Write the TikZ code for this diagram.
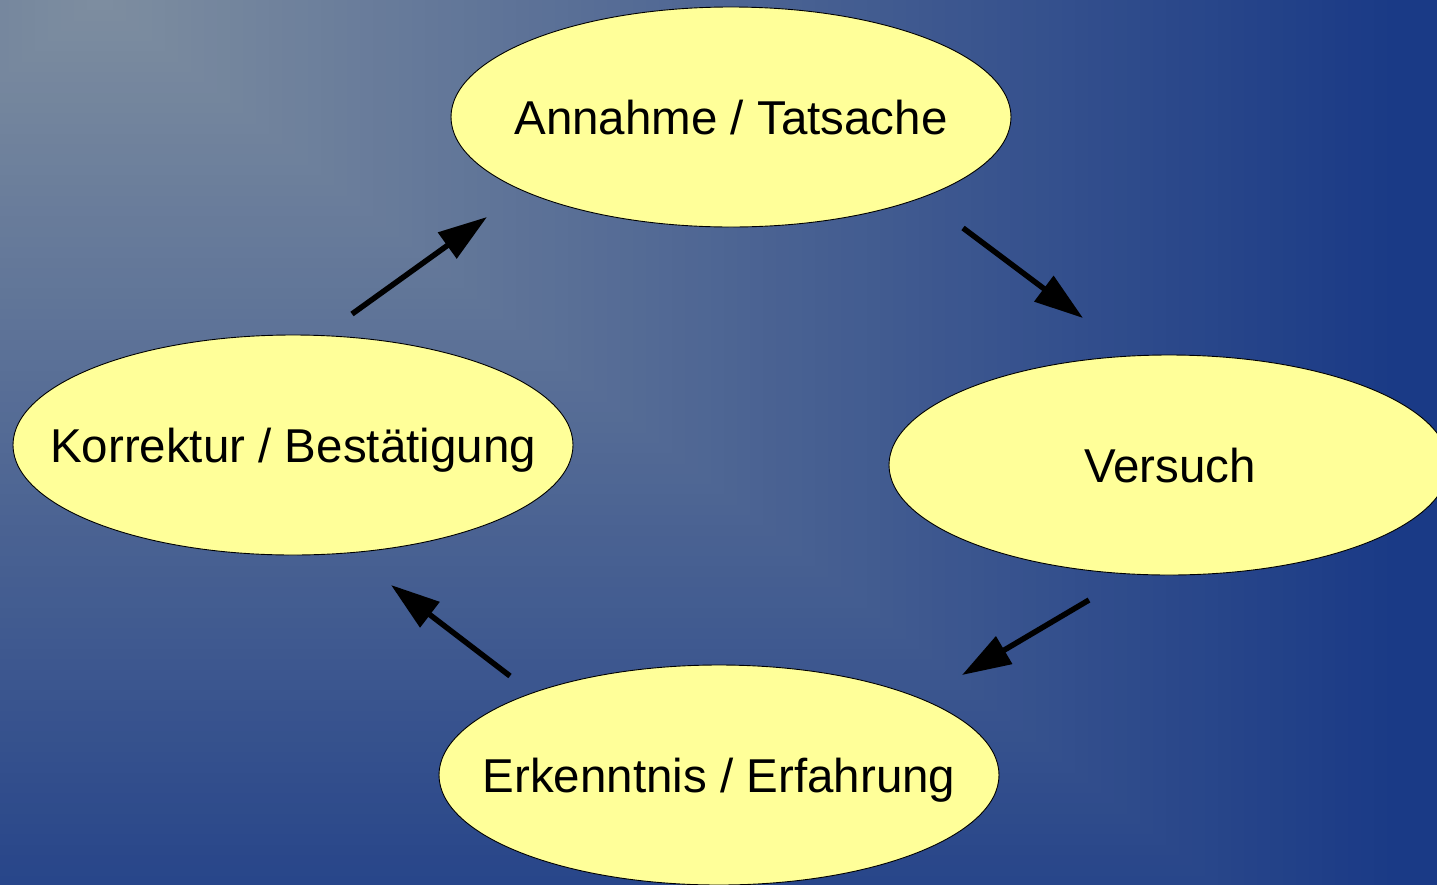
\documentclass[tikz,border=0pt]{standalone}
\usepackage{fontspec}
\setmainfont{Liberation Sans}
\usetikzlibrary{shapes.geometric,arrows.meta}
\definecolor{bglight}{HTML}{7E8EA0}
\definecolor{bgdark}{HTML}{1A3A86}
\definecolor{ellfill}{HTML}{FFFF99}
\begin{document}
\begin{tikzpicture}[x=1pt,y=-1pt,
  stage/.style={ellipse, draw=black, line width=0.9pt, fill=ellfill,
    minimum width=560pt, minimum height=220pt, inner sep=0pt},
  stagetext/.style={inner sep=0pt, text height=34pt, text depth=0pt,
    font=\fontsize{47.5}{57}\selectfont},
  arr/.style={line width=5.5pt, -{Triangle[length=49pt,width=31pt]}}]
\useasboundingbox (0,0) rectangle (1437,884);
\begin{scope}
\clip (0,0) rectangle (1437,884);
\foreach \i in {112,111,...,0}{
  \pgfmathsetmacro\t{\i/100}
  \pgfmathsetmacro\p{min(100,\i)}
  \fill[bgdark!\p!bglight] ({100-1300*\t},{-1030*\t}) rectangle ({100+1300*\t},{1030*\t});
}
\node[stage] (ann) at (731,117) {};
\node[stage] (ver) at (1169,465) {};
\node[stage] (erk) at (719,775) {};
\node[stage] (kor) at (293,445) {};
\node[stagetext] (annt) at (ann.center) {Annahme / Tatsache};
\node[stagetext] (vert) at (1170,465) {Versuch};
\node[stagetext] (erkt) at (erk.center) {Erkenntnis / Erfahrung};
\node[stagetext] (kort) at (kor.center) {Korrektur / Bestätigung};
\coordinate (a1s) at (963,228);
\coordinate (a1e) at (1083,318);
\coordinate (a2s) at (1089,600);
\coordinate (a2e) at (962,675);
\coordinate (a3s) at (510,676);
\coordinate (a3e) at (391,585);
\coordinate (a4s) at (352,314);
\coordinate (a4e) at (487,217);
\draw[arr] (a1s) -- (a1e);
\draw[arr] (a2s) -- (a2e);
\draw[arr] (a3s) -- (a3e);
\draw[arr] (a4s) -- (a4e);
\end{scope}
\end{tikzpicture}
\end{document}
